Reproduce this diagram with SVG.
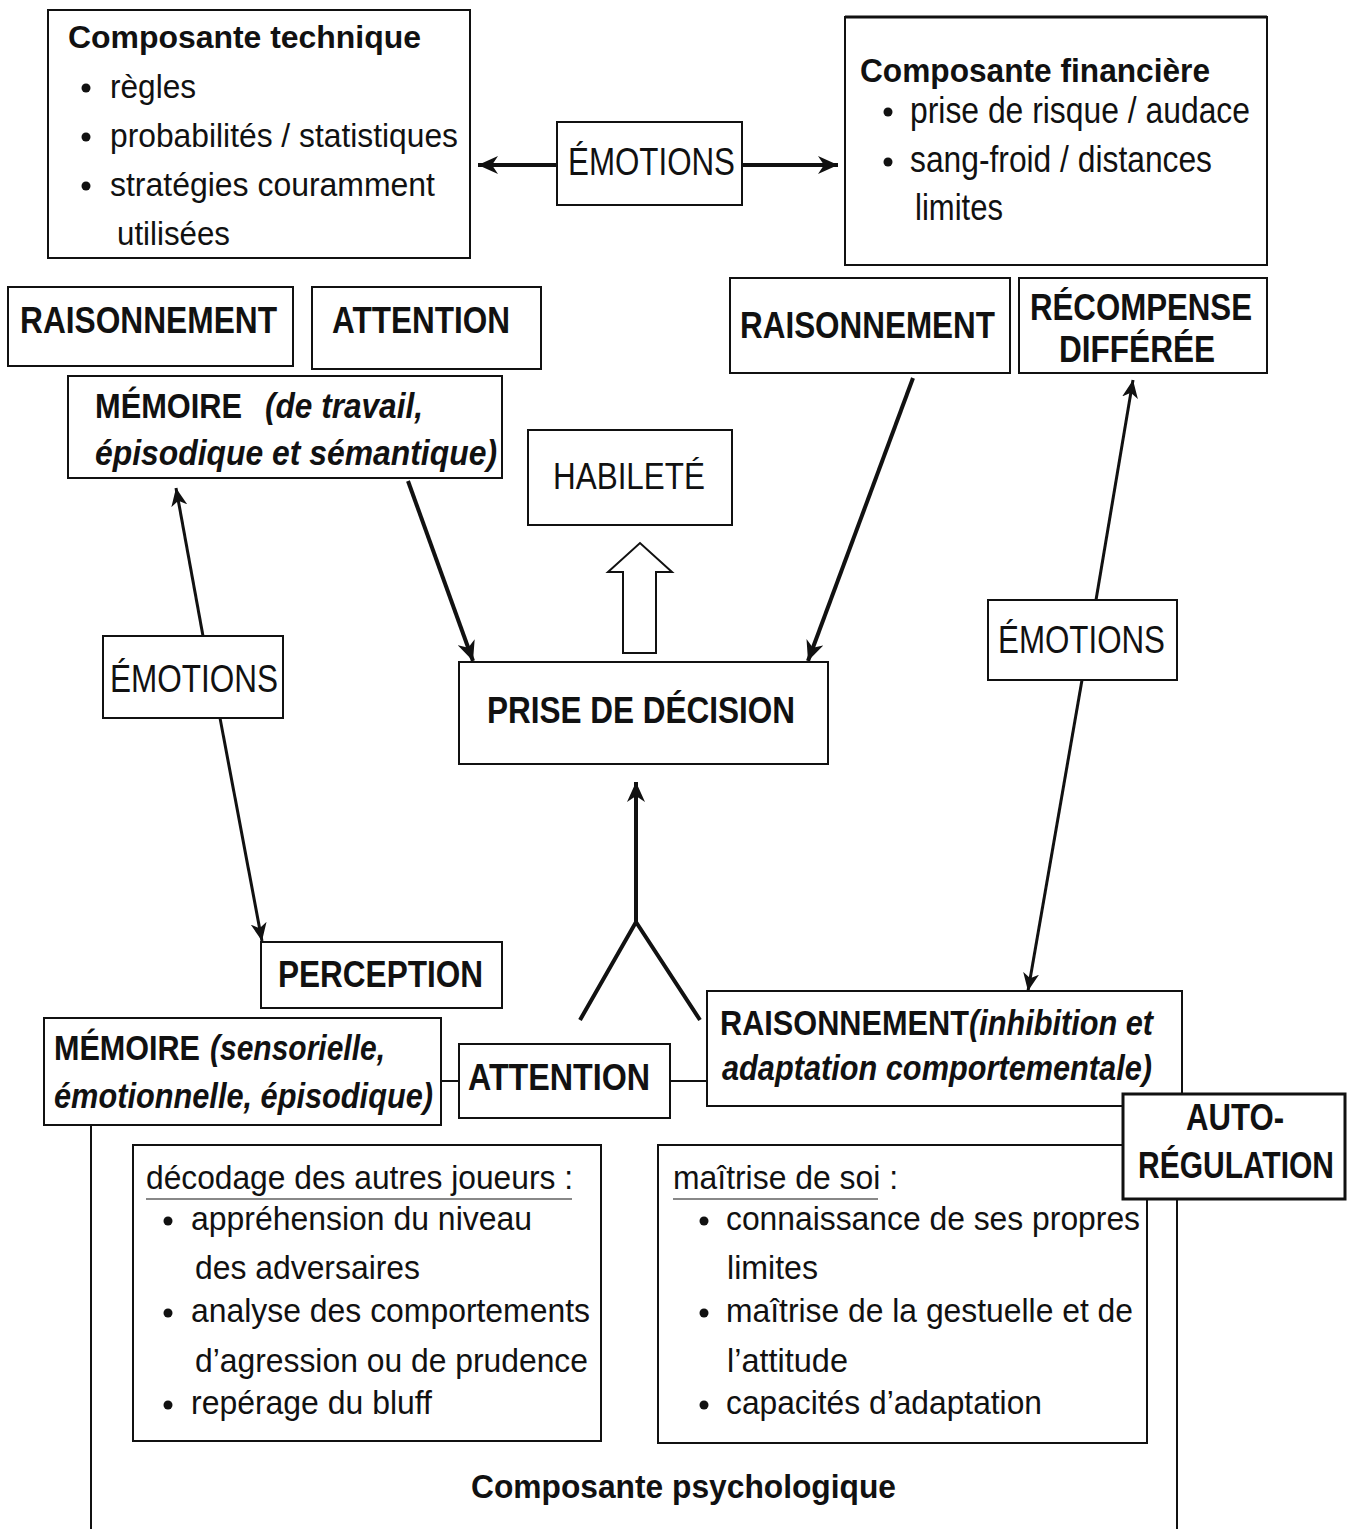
<svg xmlns="http://www.w3.org/2000/svg" width="1354" height="1529" viewBox="0 0 1354 1529">
<style>
.box{fill:#fff;stroke:#111;stroke-width:2}
.thick{fill:#fff;stroke:#111;stroke-width:3}
.t{font-family:"Liberation Sans",Arial,sans-serif;fill:#111}
.b{font-weight:bold}
.i{font-style:italic}
.c1{stroke:#111;stroke-width:4;fill:none}
.c2{stroke:#111;stroke-width:3;fill:none}
.c3{stroke:#111;stroke-width:2;fill:none}
.ul{stroke:#888;stroke-width:2}
</style>
<defs>
<marker id="ah" markerUnits="userSpaceOnUse" markerWidth="22" markerHeight="18" refX="20" refY="9" orient="auto">
<path d="M0,0 L20,9 L0,18 L6,9 z" fill="#111"/>
</marker>
<marker id="ahs" markerUnits="userSpaceOnUse" markerWidth="20" markerHeight="16" refX="18" refY="8" orient="auto">
<path d="M0,0 L18,8 L0,16 L5,8 z" fill="#111"/>
</marker>
</defs>
<rect width="1354" height="1529" fill="#fff"/>

<g id="connectors">
<line class="c1" x1="557" y1="165" x2="478" y2="165" marker-end="url(#ah)"/>
<line class="c1" x1="742" y1="165" x2="838" y2="165" marker-end="url(#ah)"/>
<line class="c1" x1="408" y1="481" x2="473" y2="661" marker-end="url(#ah)"/>
<line class="c1" x1="913" y1="378" x2="808" y2="661" marker-end="url(#ah)"/>
<line class="c2" x1="203" y1="636" x2="176" y2="488" marker-end="url(#ahs)"/>
<line class="c2" x1="220" y1="718" x2="262" y2="941" marker-end="url(#ahs)"/>
<line class="c2" x1="1096" y1="600" x2="1133" y2="380" marker-end="url(#ahs)"/>
<line class="c2" x1="1082" y1="680" x2="1028" y2="991" marker-end="url(#ahs)"/>
<line class="c1" x1="636" y1="922" x2="636" y2="782" marker-end="url(#ah)"/>
<polyline class="c1" points="580,1020 636,922 700,1020"/>
<polygon points="623,653 623,572 608,572 640,543 672,572 656,572 656,653" fill="#fff" stroke="#111" stroke-width="2"/>
<line class="c3" x1="441" y1="1081" x2="459" y2="1081"/>
<line class="c3" x1="670" y1="1081" x2="707" y2="1081"/>
<line class="c3" x1="91" y1="1125" x2="91" y2="1529"/>
<line class="c3" x1="1177" y1="1199" x2="1177" y2="1529"/>
</g>

<g id="n-technique">
<rect class="box" x="48" y="10" width="422" height="248"/>
<text class="t b" x="68" y="48" font-size="32" textLength="353" lengthAdjust="spacingAndGlyphs">Composante technique</text>
<circle cx="86" cy="88" r="4.5" fill="#111"/><circle cx="86" cy="137" r="4.5" fill="#111"/><circle cx="86" cy="186" r="4.5" fill="#111"/>
<text class="t" x="110" y="98" font-size="33" textLength="86" lengthAdjust="spacingAndGlyphs">règles</text>
<text class="t" x="110" y="147" font-size="33" textLength="348" lengthAdjust="spacingAndGlyphs">probabilités / statistiques</text>
<text class="t" x="110" y="196" font-size="33" textLength="325" lengthAdjust="spacingAndGlyphs">stratégies couramment</text>
<text class="t" x="117" y="245" font-size="33" textLength="113" lengthAdjust="spacingAndGlyphs">utilisées</text>
</g>

<g id="n-emotions-top">
<rect class="box" x="557" y="122" width="185" height="83"/>
<text class="t" x="568" y="175" font-size="38" textLength="167" lengthAdjust="spacingAndGlyphs">ÉMOTIONS</text>
</g>

<g id="n-financiere">
<rect class="box" x="845" y="17" width="422" height="248"/>
<line x1="845" y1="17" x2="1267" y2="17" stroke="#111" stroke-width="3"/>
<text class="t b" x="860" y="82" font-size="34" textLength="350" lengthAdjust="spacingAndGlyphs">Composante financière</text>
<circle cx="888" cy="112" r="4.5" fill="#111"/><circle cx="888" cy="162" r="4.5" fill="#111"/>
<text class="t" x="910" y="123" font-size="36" textLength="340" lengthAdjust="spacingAndGlyphs">prise de risque / audace</text>
<text class="t" x="910" y="172" font-size="36" textLength="302" lengthAdjust="spacingAndGlyphs">sang-froid / distances</text>
<text class="t" x="915" y="220" font-size="36" textLength="88" lengthAdjust="spacingAndGlyphs">limites</text>
</g>

<g id="n-raisonnement-tl">
<rect class="box" x="8" y="287" width="285" height="79"/>
<text class="t b" x="20" y="333" font-size="37" textLength="257" lengthAdjust="spacingAndGlyphs">RAISONNEMENT</text>
</g>
<g id="n-attention-tl">
<rect class="box" x="312" y="287" width="229" height="82"/>
<text class="t b" x="332" y="333" font-size="37" textLength="178" lengthAdjust="spacingAndGlyphs">ATTENTION</text>
</g>
<g id="n-raisonnement-tr">
<rect class="box" x="730" y="278" width="280" height="95"/>
<text class="t b" x="740" y="338" font-size="37" textLength="255" lengthAdjust="spacingAndGlyphs">RAISONNEMENT</text>
</g>
<g id="n-recompense">
<rect class="box" x="1019" y="278" width="248" height="95"/>
<text class="t b" x="1030" y="320" font-size="37" textLength="222" lengthAdjust="spacingAndGlyphs">RÉCOMPENSE</text>
<text class="t b" x="1059" y="362" font-size="37" textLength="156" lengthAdjust="spacingAndGlyphs">DIFFÉRÉE</text>
</g>

<g id="n-memoire-top">
<rect class="box" x="68" y="376" width="434" height="102"/>
<text class="t b" x="95" y="418" font-size="35" textLength="147" lengthAdjust="spacingAndGlyphs">MÉMOIRE</text>
<text class="t b i" x="265" y="418" font-size="35" textLength="158" lengthAdjust="spacingAndGlyphs">(de travail,</text>
<text class="t b i" x="95" y="465" font-size="35" textLength="402" lengthAdjust="spacingAndGlyphs">épisodique et sémantique)</text>
</g>

<g id="n-habilete">
<rect class="box" x="528" y="430" width="204" height="95"/>
<text class="t" x="553" y="489" font-size="37" textLength="152" lengthAdjust="spacingAndGlyphs">HABILETÉ</text>
</g>

<g id="n-prise">
<rect class="box" x="459" y="662" width="369" height="102"/>
<text class="t b" x="487" y="723" font-size="37" textLength="308" lengthAdjust="spacingAndGlyphs">PRISE DE DÉCISION</text>
</g>

<g id="n-emotions-left">
<rect class="box" x="103" y="636" width="180" height="82"/>
<text class="t" x="110" y="692" font-size="38" textLength="168" lengthAdjust="spacingAndGlyphs">ÉMOTIONS</text>
</g>
<g id="n-emotions-right">
<rect class="box" x="988" y="600" width="189" height="80"/>
<text class="t" x="998" y="653" font-size="38" textLength="167" lengthAdjust="spacingAndGlyphs">ÉMOTIONS</text>
</g>

<g id="n-perception">
<rect class="box" x="261" y="942" width="241" height="66"/>
<text class="t b" x="278" y="987" font-size="37" textLength="205" lengthAdjust="spacingAndGlyphs">PERCEPTION</text>
</g>

<g id="n-memoire-bottom">
<rect class="box" x="44" y="1018" width="397" height="107"/>
<text class="t b" x="54" y="1060" font-size="35" textLength="146" lengthAdjust="spacingAndGlyphs">MÉMOIRE</text>
<text class="t b i" x="210" y="1060" font-size="35" textLength="175" lengthAdjust="spacingAndGlyphs">(sensorielle,</text>
<text class="t b i" x="54" y="1108" font-size="35" textLength="379" lengthAdjust="spacingAndGlyphs">émotionnelle, épisodique)</text>
</g>

<g id="n-attention-bottom">
<rect class="box" x="459" y="1044" width="211" height="74"/>
<text class="t b" x="468" y="1090" font-size="37" textLength="182" lengthAdjust="spacingAndGlyphs">ATTENTION</text>
</g>

<g id="n-raisonnement-bottom">
<rect class="box" x="707" y="991" width="475" height="115"/>
<text class="t b" x="720" y="1035" font-size="35" textLength="433" lengthAdjust="spacingAndGlyphs">RAISONNEMENT<tspan class="i">(inhibition et</tspan></text>
<text class="t b i" x="722" y="1080" font-size="35" textLength="430" lengthAdjust="spacingAndGlyphs">adaptation comportementale)</text>
</g>

<g id="n-decodage">
<rect class="box" x="133" y="1145" width="468" height="296"/>
<text class="t" x="146" y="1189" font-size="34" textLength="427" lengthAdjust="spacingAndGlyphs">décodage des autres joueurs :</text>
<line class="ul" x1="146" y1="1199" x2="572" y2="1199"/>
<circle cx="168" cy="1221" r="4.5" fill="#111"/><circle cx="168" cy="1313" r="4.5" fill="#111"/><circle cx="168" cy="1405" r="4.5" fill="#111"/>
<text class="t" x="191" y="1230" font-size="33" textLength="341" lengthAdjust="spacingAndGlyphs">appréhension du niveau</text>
<text class="t" x="195" y="1279" font-size="33" textLength="225" lengthAdjust="spacingAndGlyphs">des adversaires</text>
<text class="t" x="191" y="1322" font-size="33" textLength="399" lengthAdjust="spacingAndGlyphs">analyse des comportements</text>
<text class="t" x="195" y="1372" font-size="33" textLength="393" lengthAdjust="spacingAndGlyphs">d’agression ou de prudence</text>
<text class="t" x="191" y="1414" font-size="33" textLength="241" lengthAdjust="spacingAndGlyphs">repérage du bluff</text>
</g>

<g id="n-maitrise">
<rect class="box" x="658" y="1145" width="489" height="298"/>
<text class="t" x="673" y="1189" font-size="34" textLength="225" lengthAdjust="spacingAndGlyphs">maîtrise de soi :</text>
<line class="ul" x1="673" y1="1199" x2="878" y2="1199"/>
<circle cx="704" cy="1221" r="4.5" fill="#111"/><circle cx="704" cy="1313" r="4.5" fill="#111"/><circle cx="704" cy="1405" r="4.5" fill="#111"/>
<text class="t" x="726" y="1230" font-size="33" textLength="414" lengthAdjust="spacingAndGlyphs">connaissance de ses propres</text>
<text class="t" x="727" y="1279" font-size="33" textLength="91" lengthAdjust="spacingAndGlyphs">limites</text>
<text class="t" x="726" y="1322" font-size="33" textLength="407" lengthAdjust="spacingAndGlyphs">maîtrise de la gestuelle et de</text>
<text class="t" x="727" y="1372" font-size="33" textLength="121" lengthAdjust="spacingAndGlyphs">l’attitude</text>
<text class="t" x="726" y="1414" font-size="33" textLength="316" lengthAdjust="spacingAndGlyphs">capacités d’adaptation</text>
</g>

<g id="n-autoregulation">
<rect class="thick" x="1123" y="1094" width="222" height="105"/>
<text class="t b" x="1235" y="1130" font-size="36" text-anchor="middle" textLength="98" lengthAdjust="spacingAndGlyphs">AUTO-</text>
<text class="t b" x="1138" y="1178" font-size="36" textLength="196" lengthAdjust="spacingAndGlyphs">RÉGULATION</text>
</g>

<g id="n-psychologique">
<text class="t b" x="471" y="1498" font-size="33" textLength="425" lengthAdjust="spacingAndGlyphs">Composante psychologique</text>
</g>
</svg>
